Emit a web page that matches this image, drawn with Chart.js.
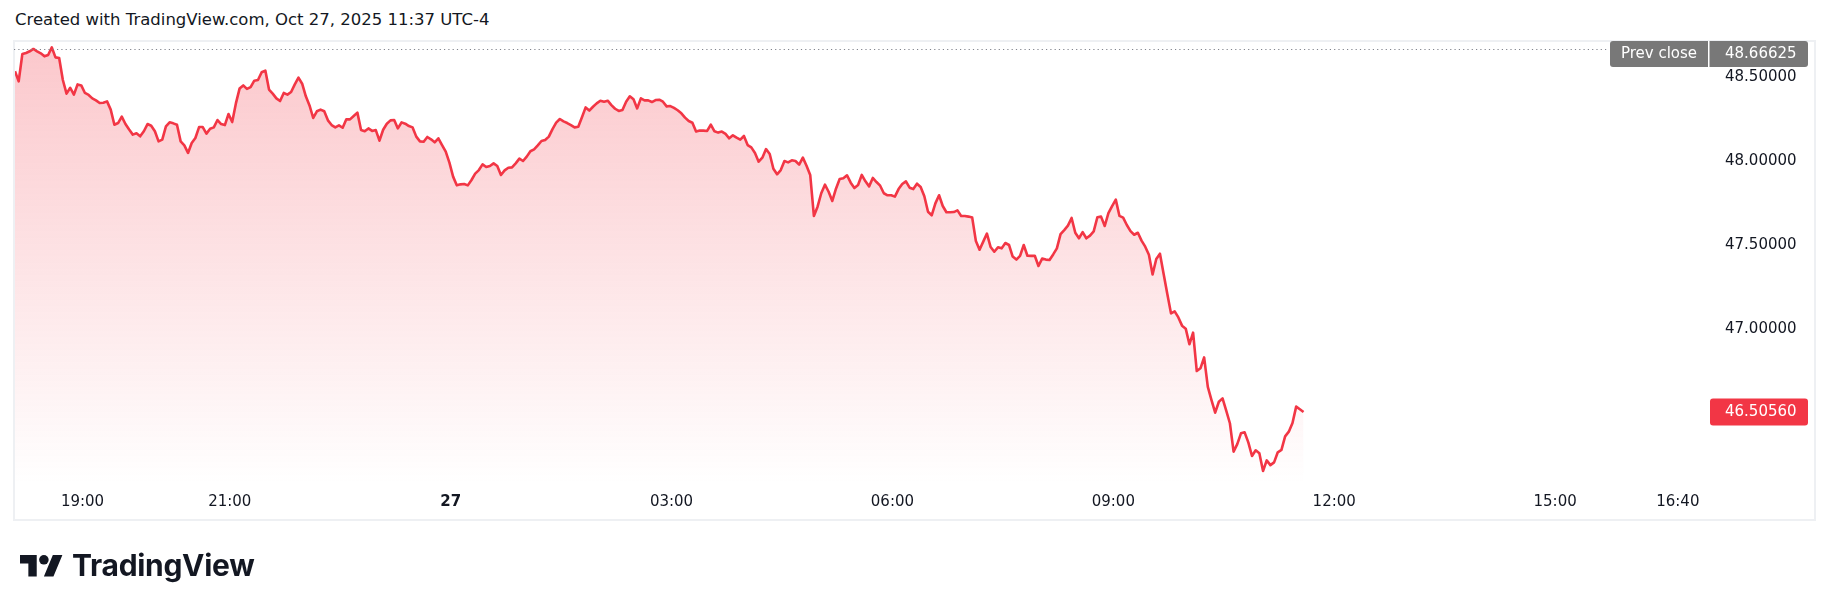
<!DOCTYPE html>
<html>
<head>
<meta charset="utf-8">
<script src="https://cdn.jsdelivr.net/npm/chart.js@4.4.0/dist/chart.umd.min.js"></script>
<style>
  html, body { margin: 0; padding: 0; background: #fff; }
  body { width: 1830px; height: 611px; position: relative; overflow: hidden; font-family: "DejaVu Sans", sans-serif; }
  #chart { position: absolute; left: 0; top: 0; }
  #title { position: absolute; left: 15px; top: 10px; font-size: 16.5px; color: #131722; white-space: nowrap; }
  #logo { position: absolute; left: 20px; top: 550px; height: 34px; }
  #logo svg { position: absolute; left: 0; top: 0; }
  #logo span { position: absolute; left: 52px; top: 0px; font-family: Inter, sans-serif; font-weight: 700; font-size: 30px; line-height: 30px; letter-spacing: -0.3px; color: #131722; white-space: nowrap; }
</style>
</head>
<body>
<div id="title">Created with TradingView.com, Oct 27, 2025 11:37 UTC-4</div>
<canvas id="chart" width="1830" height="611"></canvas>
<div id="logo">
  <svg width="43" height="34" viewBox="0 0 36 28"><path d="M14 22H7V11H0V4h14v18zM28 22h-8l7.5-18h8L28 22z" fill="#131722"/><circle cx="20" cy="8" r="4" fill="#131722"/></svg>
  <span>TradingView</span>
</div>
<script>
// 時間はOct 26 18:00からの分。3分足、18:05スタート
const startMinute = 5;
const barMinutes = 3;

// 価格（チャートから読み取り）
const prices = [
  48.534, 48.474, 48.637, 48.643, 48.653, 48.667, 48.653, 48.641, 48.623, 48.631,
  48.676, 48.617, 48.613, 48.482, 48.401, 48.436, 48.395, 48.456, 48.450, 48.405,
  48.393, 48.373, 48.361, 48.345, 48.347, 48.355, 48.306, 48.216, 48.226, 48.264,
  48.220, 48.187, 48.157, 48.165, 48.147, 48.177, 48.220, 48.210, 48.177, 48.117,
  48.127, 48.206, 48.230, 48.224, 48.216, 48.117, 48.093, 48.048, 48.107, 48.137,
  48.202, 48.202, 48.163, 48.192, 48.200, 48.244, 48.220, 48.214, 48.280, 48.232,
  48.343, 48.431, 48.450, 48.429, 48.440, 48.478, 48.482, 48.528, 48.538, 48.425,
  48.401, 48.373, 48.357, 48.405, 48.395, 48.411, 48.456, 48.496, 48.460, 48.385,
  48.331, 48.256, 48.296, 48.306, 48.296, 48.242, 48.214, 48.200, 48.212,
  48.198, 48.248, 48.248, 48.268, 48.288, 48.184, 48.177, 48.194, 48.179, 48.184,
  48.121, 48.186, 48.222, 48.242, 48.244, 48.194, 48.230, 48.222, 48.208, 48.200,
  48.145, 48.117, 48.115, 48.143, 48.129, 48.111, 48.135, 48.095, 48.056, 47.990,
  47.907, 47.855, 47.861, 47.863, 47.855, 47.887, 47.925, 47.946, 47.980, 47.964,
  47.970, 47.986, 47.970, 47.917, 47.944, 47.960, 47.962, 47.986, 48.014, 48.000,
  48.026, 48.058, 48.069, 48.093, 48.119, 48.125, 48.145, 48.190, 48.228, 48.250,
  48.236, 48.226, 48.214, 48.200, 48.204, 48.260, 48.319, 48.300, 48.323, 48.343,
  48.359, 48.353, 48.359, 48.333, 48.311, 48.298, 48.304, 48.353, 48.385, 48.367,
  48.313, 48.373, 48.361, 48.361, 48.351, 48.363, 48.365, 48.353,
  48.325, 48.327, 48.316, 48.302, 48.284, 48.258, 48.238, 48.228, 48.175, 48.181,
  48.181, 48.179, 48.216, 48.177, 48.169, 48.175, 48.161, 48.135, 48.153, 48.139,
  48.127, 48.149, 48.095, 48.081, 48.048, 47.996, 48.020, 48.071, 48.042, 47.954,
  47.921, 47.946, 48.000, 47.992, 48.004, 48.000, 47.978, 48.020, 47.972, 47.917,
  47.673, 47.728, 47.808, 47.859, 47.817, 47.762, 47.835, 47.893, 47.897, 47.915,
  47.871, 47.839, 47.857, 47.917, 47.879, 47.849, 47.899, 47.875, 47.853, 47.808,
  47.796, 47.796, 47.788, 47.833, 47.863, 47.879, 47.841, 47.833, 47.865, 47.845,
  47.790, 47.698, 47.677, 47.748, 47.796, 47.732, 47.695, 47.695, 47.696, 47.706,
  47.673, 47.673, 47.669, 47.663, 47.524, 47.472, 47.520, 47.568,
  47.488, 47.460, 47.486, 47.480, 47.512, 47.500, 47.431, 47.413, 47.435, 47.500,
  47.436, 47.435, 47.436, 47.375, 47.419, 47.413, 47.411, 47.444, 47.480, 47.565,
  47.589, 47.615, 47.661, 47.573, 47.540, 47.577, 47.540, 47.556, 47.581, 47.665,
  47.669, 47.613, 47.690, 47.732, 47.770, 47.673, 47.663, 47.619, 47.583, 47.561,
  47.573, 47.526, 47.490, 47.442, 47.325, 47.417, 47.448, 47.327, 47.208, 47.093,
  47.105, 47.069, 47.020, 47.002, 46.909, 46.978, 46.750, 46.766, 46.831, 46.655,
  46.577, 46.502, 46.567, 46.587, 46.514, 46.439, 46.270, 46.315, 46.379, 46.385,
  46.325, 46.244, 46.278, 46.260, 46.155, 46.218, 46.190, 46.206, 46.266, 46.280,
  46.361, 46.389, 46.440, 46.538, 46.522, 46.5056
];

// 時間軸の目盛り
const timeTicks = [60, 180, 360, 540, 720, 900, 1080, 1260, 1360];
const timeLabels = ['19:00', '21:00', '27', '03:00', '06:00', '09:00', '12:00', '15:00', '16:40'];

// 価格軸の目盛り
const priceTicks = [48.5, 48, 47.5, 47];

const prevClose = 48.66625;
const lastPrice = 46.5056;

const RED = '#f23645';
const FONT = 'DejaVu Sans';

const points = prices.map((p, i) => ({ x: startMinute + i * barMinutes, y: p }));

// 枠・前日終値・現在値ラベル
const overlay = {
  id: 'overlay',
  afterDraw(chart) {
    const c = chart.ctx;
    const area = chart.chartArea;
    const ys = chart.scales.y;
    c.save();

    // 枠
    c.strokeStyle = '#eef0f3';
    c.lineWidth = 2;
    c.strokeRect(14, 41, 1801, 479);

    // 前日終値の点線
    const yp = Math.round(ys.getPixelForValue(prevClose)) + 0.5;
    c.strokeStyle = '#80838c';
    c.lineWidth = 1;
    c.setLineDash([1.2, 3.1]);
    c.beginPath();
    c.moveTo(area.left, yp);
    c.lineTo(1608, yp);
    c.stroke();
    c.setLineDash([]);

    // 前日終値ラベル
    let top = Math.max(41, yp - 13);
    c.fillStyle = '#787878';
    c.beginPath();
    c.roundRect(1610, top, 198, 26, 3);
    c.fill();
    c.fillStyle = '#fff';
    c.fillRect(1708, top, 1.5, 26);
    c.font = '15px "' + FONT + '"';
    c.textBaseline = 'middle';
    c.textAlign = 'center';
    c.fillText('Prev close', 1659, top + 13.5);
    c.textAlign = 'left';
    c.fillText(prevClose.toFixed(5), 1725, top + 13.5);

    // 現在値ラベル
    const yl = ys.getPixelForValue(lastPrice);
    c.fillStyle = RED;
    c.beginPath();
    c.roundRect(1710, yl - 13.5, 98, 27, 3);
    c.fill();
    c.fillStyle = '#fff';
    c.fillText(lastPrice.toFixed(5), 1725, yl + 0.5);

    c.restore();
  }
};

const ctx = document.getElementById('chart');

const chart = new Chart(ctx, {
  type: 'line',
  data: {
    datasets: [{
      data: points,
      borderColor: RED,
      borderWidth: 2.6,
      borderJoinStyle: 'round',
      pointRadius: 0,
      tension: 0,
      fill: 'start',
      backgroundColor(context) {
        const area = context.chart.chartArea;
        if (!area) return 'rgba(242,54,69,0.2)';
        const g = context.chart.ctx.createLinearGradient(0, area.top, 0, area.bottom);
        g.addColorStop(0, 'rgba(242,54,69,0.28)');
        g.addColorStop(1, 'rgba(242,54,69,0.0)');
        return g;
      }
    }]
  },
  options: {
    responsive: false,
    animation: false,
    layout: { padding: { left: 14, top: 41, right: 0, bottom: 0 } },
    plugins: { legend: { display: false }, tooltip: { enabled: false } },
    scales: {
      x: {
        type: 'linear',
        min: 4.19,
        max: 1385.4,
        grid: { display: false, drawTicks: false },
        border: { display: false },
        afterFit(scale) { scale.height = 127; },
        afterBuildTicks(scale) { scale.ticks = timeTicks.map(v => ({ value: v })); },
        ticks: {
          autoSkip: false,
          maxRotation: 0,
          padding: 9,
          color: '#131722',
          font(c) { return { family: FONT, size: 15, weight: c.tick && c.tick.value === 360 ? 'bold' : 'normal' }; },
          callback(value, index) { return timeLabels[index]; }
        }
      },
      y: {
        position: 'right',
        min: 46.0774,
        max: 48.7143,
        grid: { display: false, drawTicks: false },
        border: { display: false },
        afterFit(scale) { scale.width = 121; },
        afterBuildTicks(scale) { scale.ticks = priceTicks.map(v => ({ value: v })); },
        ticks: {
          padding: 16,
          color: '#131722',
          font: { family: FONT, size: 15 },
          callback(value) { return value.toFixed(5); }
        }
      }
    }
  },
  plugins: [overlay]
});
</script>
</body>
</html>
